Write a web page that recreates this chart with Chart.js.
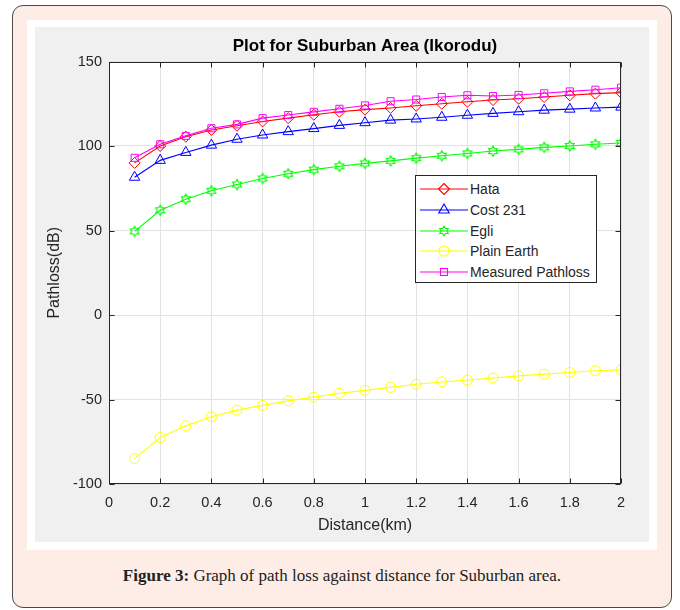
<!DOCTYPE html>
<html>
<head>
<meta charset="utf-8">
<script src="https://cdn.jsdelivr.net/npm/chart.js@4"></script>
<style>
  html, body { margin: 0; padding: 0; background: #fff; width: 680px; height: 610px; overflow: hidden; }
  .abs { position: absolute; box-sizing: border-box; }
  #card { left: 12px; top: 5px; width: 660px; height: 603px; border: 1.5px solid #4a4a4a; border-radius: 11px; background: #fdede6; }
  #frame { left: 27px; top: 20px; width: 630px; height: 530px; background: #fff; }
  #fig { left: 35px; top: 27px; width: 614px; height: 515px; background: #f0f0f0; }
  #legend { left: 415px; top: 175px; width: 182px; height: 108px; background: #fff; border: 1px solid #262626; font-family: "Liberation Sans", Arial, sans-serif; font-size: 14px; color: #262626; }
  .row { position: absolute; left: 0; height: 20px; line-height: 20px; white-space: nowrap; }
  .row svg { position: absolute; left: 2px; top: 3px; }
  .row span { position: absolute; left: 54px; top: 0; }
  #caption { left: 12px; top: 566px; width: 660px; text-align: center; font-family: "Liberation Serif", "DejaVu Serif", serif; font-size: 17px; color: #222; }
</style>
</head>
<body>
<div id="card" class="abs"></div>
<div id="frame" class="abs"></div>
<div id="fig" class="abs"><canvas id="chart" width="614" height="515"></canvas></div>
<div id="legend" class="abs"></div>
<div id="caption" class="abs"><b>Figure 3:</b> Graph of path loss against distance for Suburban area.</div>
<script>
// distance (km)
const distanceKm = [0.1, 0.2, 0.3, 0.4, 0.5, 0.6, 0.7, 0.8, 0.9, 1.0, 1.1, 1.2, 1.3, 1.4, 1.5, 1.6, 1.7, 1.8, 1.9, 2.0];

// path loss (dB)
const hata       = [90, 100, 105.5, 109.5, 112, 114.5, 116.5, 118.5, 120.3, 121.5, 122.5, 123.8, 125, 126.2, 127.2, 128, 129, 130, 131, 131.6];
const cost231    = [81.5, 91.5, 96.2, 100.5, 104, 106.5, 108.5, 110.3, 112.2, 113.8, 115.3, 116, 117, 118.2, 119.3, 120.3, 121.2, 121.8, 122.5, 123];
const egli       = [49.5, 62, 68.5, 73.5, 77.2, 80.8, 83.6, 86, 88, 89.7, 91.2, 92.8, 94.2, 95.6, 97, 98, 99.2, 100, 101, 101.8];
const plainEarth = [-85, -72.5, -65.6, -60.2, -56.3, -53.5, -50.8, -48.6, -46.3, -44.6, -42.8, -41, -39.6, -38.5, -37.3, -36, -35, -34, -33, -32.4];
const measured   = [93, 101, 106, 110.5, 112.8, 116.5, 118.3, 120.2, 122, 124, 126.5, 127.5, 129, 130, 129.6, 130.2, 131.2, 132.3, 133.3, 134.5];

const seriesNames = ['Hata', 'Cost 231', 'Egli', 'Plain Earth', 'Measured Pathloss'];
const seriesColors = ['#ff0000', '#0000ff', '#00ff00', '#ffff00', '#ff00ff'];

const xTicks = { min: 0, max: 2, step: 0.2 };
const yTicks = { min: -100, max: 150, step: 50 };

// hexagram marker (MATLAB 'h')
function hexPoints(cx, cy, R) {
  const pts = [];
  for (let i = 0; i < 12; i++) {
    const r = i % 2 ? R * 0.577 : R;
    const a = -Math.PI / 2 + i * Math.PI / 6;
    pts.push([cx + r * Math.cos(a), cy + r * Math.sin(a)]);
  }
  return pts;
}
const hexImg = document.createElement('canvas');
hexImg.width = 14; hexImg.height = 14;
(() => {
  const c = hexImg.getContext('2d');
  c.strokeStyle = seriesColors[2];
  c.lineWidth = 1.2;
  c.beginPath();
  hexPoints(7, 7, 5).forEach((p, i) => i ? c.lineTo(p[0], p[1]) : c.moveTo(p[0], p[1]));
  c.closePath();
  c.stroke();
})();

const markers = [
  { style: 'rectRot', r: 5.5 },
  { style: 'triangle', r: 6 },
  { style: hexImg, r: 5 },
  { style: 'circle', r: 5 },
  { style: 'rect', r: 5 }
];
const allSeries = [hata, cost231, egli, plainEarth, measured];

const toXY = arr => arr.map((v, i) => ({ x: distanceKm[i], y: v }));

const datasets = allSeries.map((arr, i) => ({
  label: seriesNames[i],
  data: toXY(arr),
  borderColor: seriesColors[i],
  backgroundColor: 'rgba(0,0,0,0)',
  borderWidth: 1.1,
  pointStyle: markers[i].style,
  pointRadius: markers[i].r,
  pointBorderWidth: 1,
  pointBorderColor: seriesColors[i],
  pointBackgroundColor: 'rgba(0,0,0,0)',
  tension: 0,
  order: allSeries.length - i
}));

// white axes background, box around the axes + inward ticks, MATLAB style
const axisBox = {
  id: 'axisBox',
  beforeDraw(chart) {
    const { ctx, chartArea: a } = chart;
    ctx.save();
    ctx.fillStyle = '#fff';
    ctx.fillRect(a.left, a.top, a.right - a.left, a.bottom - a.top);
    ctx.restore();
  },
  afterDraw(chart) {
    const { ctx, chartArea: a, scales: { x, y } } = chart;
    const L = Math.round(a.left) + 0.5, R = Math.round(a.right) - 0.5;
    const T = Math.round(a.top) + 0.5, B = Math.round(a.bottom) - 0.5;
    ctx.save();
    ctx.strokeStyle = '#262626';
    ctx.lineWidth = 1;
    ctx.beginPath();
    x.ticks.forEach(t => {
      const px = Math.round(x.getPixelForValue(t.value)) + 0.5;
      ctx.moveTo(px, B); ctx.lineTo(px, B - 5);
      ctx.moveTo(px, T); ctx.lineTo(px, T + 5);
    });
    y.ticks.forEach(t => {
      const py = Math.round(y.getPixelForValue(t.value)) + 0.5;
      ctx.moveTo(L, py); ctx.lineTo(L + 5, py);
      ctx.moveTo(R, py); ctx.lineTo(R - 5, py);
    });
    ctx.stroke();
    ctx.strokeRect(L, T, R - L, B - T);
    ctx.restore();
  }
};

const font = 'Liberation Sans, Arial, sans-serif';

new Chart(document.getElementById('chart'), {
  type: 'line',
  data: { datasets },
  options: {
    responsive: false,
    animation: false,
    layout: { padding: { left: 0, right: 28, top: 0, bottom: 0 } },
    plugins: {
      legend: { display: false },
      tooltip: { enabled: false },
      title: {
        display: true,
        fullSize: false,
        text: 'Plot for Suburban Area (Ikorodu)',
        color: '#000',
        font: { family: font, size: 17, weight: 'bold' },
        padding: { top: 8.8, bottom: 5.3 }
      }
    },
    scales: {
      x: {
        type: 'linear',
        min: xTicks.min, max: xTicks.max,
        afterFit: s => { s.height = 58; },
        grid: { color: '#e2e2e2', drawTicks: false },
        border: { display: false },
        ticks: {
          stepSize: xTicks.step, padding: 10, color: '#262626',
          font: { family: font, size: 14.5 },
          maxRotation: 0, autoSkip: false,
          callback: v => String(+v.toFixed(1))
        },
        title: { display: true, text: 'Distance(km)', color: '#262626', font: { family: font, size: 16 }, padding: { top: 0, bottom: 6.4 } }
      },
      y: {
        min: yTicks.min, max: yTicks.max,
        afterFit: s => { s.width = 74; },
        grid: { color: '#e2e2e2', drawTicks: false },
        border: { display: false },
        ticks: { stepSize: yTicks.step, padding: 7, color: '#262626', font: { family: font, size: 14.5 } },
        title: { display: true, text: 'Pathloss(dB)', color: '#262626', font: { family: font, size: 16 }, padding: { top: 10.4, bottom: 0 } }
      }
    }
  },
  plugins: [axisBox]
});

// legend inside the axes
function markerSvg(i) {
  const c = seriesColors[i], cx = 26, cy = 7;
  let m = '';
  if (i === 0) m = `<polygon points="${cx},${cy - 5.5} ${cx + 5.5},${cy} ${cx},${cy + 5.5} ${cx - 5.5},${cy}" />`;
  if (i === 1) m = `<polygon points="${cx},${cy - 6} ${cx + 5.2},${cy + 3} ${cx - 5.2},${cy + 3}" />`;
  if (i === 2) m = `<polygon points="${hexPoints(cx, cy, 5).map(p => p.join(',')).join(' ')}" />`;
  if (i === 3) m = `<circle cx="${cx}" cy="${cy}" r="5" />`;
  if (i === 4) m = `<rect x="${cx - 3.5}" y="${cy - 3.5}" width="7" height="7" />`;
  return `<svg width="52" height="14"><g stroke="${c}" stroke-width="1.1" fill="none">
    <line x1="2" y1="${cy}" x2="50" y2="${cy}" />${m}</g></svg>`;
}
const legendRowCenters = [13, 34, 54.5, 75, 95.5];
document.getElementById('legend').innerHTML = seriesNames.map((n, i) =>
  `<div class="row" style="top:${legendRowCenters[i] - 10}px">${markerSvg(i)}<span>${n}</span></div>`
).join('');
</script>
</body>
</html>
